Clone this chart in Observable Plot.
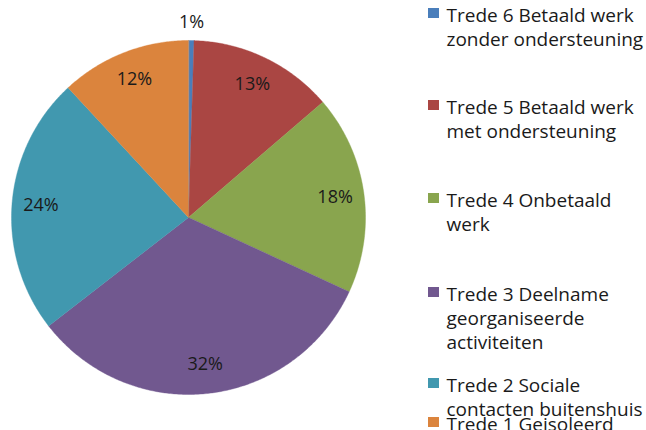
<!DOCTYPE html>
<html>
<head>
<meta charset="utf-8">
<script src="https://cdn.jsdelivr.net/npm/d3@7"></script>
<script src="https://cdn.jsdelivr.net/npm/@observablehq/plot@0.6"></script>
<style>
  html, body { margin: 0; padding: 0; background: #ffffff; }
  #chart { width: 646px; height: 430px; }
</style>
</head>
<body>
<div id="chart"></div>
<script>
// ---- data ----
const categories = [
  "Trede 6 Betaald werk zonder ondersteuning",
  "Trede 5 Betaald werk met ondersteuning",
  "Trede 4 Onbetaald werk",
  "Trede 3 Deelname georganiseerde activiteiten",
  "Trede 2 Sociale contacten buitenshuis",
  "Trede 1 Geïsoleerd"
];
const values = [0.5, 13.2, 18.2, 32.6, 23.6, 11.9];
const valueLabels = ["1%", "13%", "18%", "32%", "24%", "12%"];
const legendTexts = [
  "Trede 6 Betaald werk\nzonder ondersteuning",
  "Trede 5 Betaald werk\nmet ondersteuning",
  "Trede 4 Onbetaald\nwerk",
  "Trede 3 Deelname\ngeorganiseerde\nactiviteiten",
  "Trede 2 Sociale\ncontacten buitenshuis",
  "Trede 1 Geisoleerd"
];
const colors = ["#4A7EBB", "#AA4643", "#89A54E", "#71588F", "#4198AF", "#DB843D"];

// ---- layout ----
const W = 646, H = 430;
const cx = 188, cy = 217, R = 177;
const labelR = 148, outsideR = 195;
const legendBaselines = [18, 110, 203, 297, 388, 427];
const fontSize = 19;

const arcs = d3.pie().sort(null).value(d => d)(values);

// slice polygons
const slicePts = [];
arcs.forEach((a, i) => {
  slicePts.push({cat: categories[i], x: cx, y: cy});
  const n = Math.max(2, Math.ceil((a.endAngle - a.startAngle) / (Math.PI / 360)));
  for (let k = 0; k <= n; k++) {
    const t = a.startAngle + (a.endAngle - a.startAngle) * k / n;
    slicePts.push({cat: categories[i], x: cx + R * Math.sin(t), y: cy - R * Math.cos(t)});
  }
});

const labelData = arcs.map((a, i) => {
  const mid = (a.startAngle + a.endAngle) / 2;
  const r = values[i] < 2 ? outsideR : labelR;
  return {label: valueLabels[i], x: cx + r * Math.sin(mid), y: cy - r * Math.cos(mid)};
});

const legendData = categories.map((c, i) => ({cat: c, text: legendTexts[i], base: legendBaselines[i]}));

const plot = Plot.plot({
  width: W, height: H,
  margin: 0,
  x: {domain: [0, W], range: [0, W], axis: null},
  y: {domain: [0, H], range: [0, H], axis: null},
  color: {domain: categories, range: colors},
  style: {fontFamily: "'Open Sans', Lato, sans-serif", background: "#ffffff"},
  marks: [
    Plot.line(slicePts, {x: "x", y: "y", z: "cat", fill: "cat", stroke: "cat", strokeWidth: 0.4, curve: "linear-closed"}),
    Plot.text(labelData, {x: "x", y: "y", text: "label", fontSize: 18, fill: "#1a1a1a", lineAnchor: "middle", textAnchor: "middle"}),
    Plot.rect(legendData, {x1: () => 428, x2: () => 439, y1: d => d.base - 10, y2: d => d.base, fill: "cat"}),
    Plot.text(legendData, {x: () => 446, y: d => d.base - 0.71 * fontSize, text: "text", textAnchor: "start", lineAnchor: "top", lineHeight: 1.27, fontSize: fontSize, fill: "#1a1a1a"})
  ]
});
document.getElementById("chart").appendChild(plot);
</script>
</body>
</html>
